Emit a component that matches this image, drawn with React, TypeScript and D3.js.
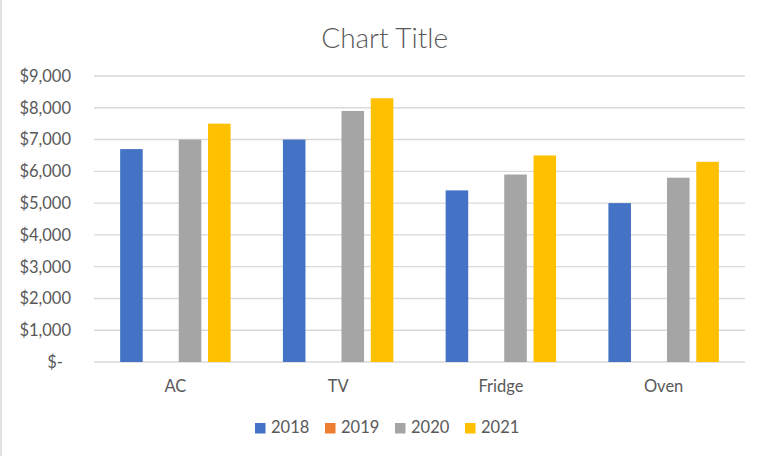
import React from "react";
import * as d3 from "d3";

const categories = ["AC", "TV", "Fridge", "Oven"];
const seriesNames = ["2018", "2019", "2020", "2021"];
const values2018 = [6700, 7000, 5400, 5000];
const values2019 = [0, 0, 0, 0];
const values2020 = [7000, 7900, 5900, 5800];
const values2021 = [7500, 8300, 6500, 6300];
const yTicks = [0, 1000, 2000, 3000, 4000, 5000, 6000, 7000, 8000, 9000];
const colors = ["#4472C4", "#ED7D31", "#A5A5A5", "#FFC000"];
const title = "Chart Title";

const W = 766;
const H = 456;
const FONT = "Lato, 'Open Sans', sans-serif";
const TEXT = "#595959";

export default function App() {
  const seriesValues = [values2018, values2019, values2020, values2021];
  const left = 94;
  const right = 745;
  const top = 76;
  const bottom = 362;

  const y = d3.scaleLinear().domain([0, 9000]).range([bottom, top]);
  const x0 = d3
    .scaleBand<string>()
    .domain(categories)
    .range([left, right])
    .paddingInner(0.28)
    .paddingOuter(0.14);
  const x1 = d3
    .scaleBand<string>()
    .domain(seriesNames)
    .range([0, x0.bandwidth()])
    .paddingInner(0.23)
    .paddingOuter(0.115);

  const fmt = d3.format("$,.0f");
  const tickLabel = (v: number) => (v === 0 ? "$-" : fmt(v));

  // legend layout
  const sq = 10.5;
  const itemW = 70;
  const legendTotal = itemW * 3 + sq + 5.5 + 37;
  const legendStart = 386.5 - legendTotal / 2;

  return (
    <svg
      width={W}
      height={H}
      style={{ position: "absolute", left: 0, top: 0, background: "#fff" }}
    >
      <rect x={0} y={0} width={W} height={H} fill="#fff" />
      <line x1={1} x2={1} y1={0} y2={H} stroke="#D9D9D9" strokeWidth={1.5} />
      <text
        x={384.7}
        y={47.5}
        textAnchor="middle"
        fontFamily={FONT}
        fontWeight={300}
        fontSize={28}
        fill={TEXT}
      >
        {title}
      </text>
      {yTicks.map((t) => (
        <g key={t}>
          <line
            x1={left}
            x2={right}
            y1={y(t)}
            y2={y(t)}
            stroke="#D9D9D9"
            strokeWidth={1.4}
          />
          <text
            x={t === 0 ? 63 : 71}
            y={y(t)}
            dy="0.36em"
            textAnchor="end"
            fontFamily={FONT}
            fontSize={16.5}
            fill={TEXT}
          >
            {tickLabel(t)}
          </text>
        </g>
      ))}
      {categories.map((c, ci) => (
        <g key={c}>
          {seriesNames.map((s, si) => {
            const v = seriesValues[si][ci];
            const bx = (x0(c) ?? 0) + (x1(s) ?? 0);
            return (
              <rect
                key={s}
                x={bx}
                y={y(v)}
                width={x1.bandwidth()}
                height={bottom - y(v)}
                fill={colors[si]}
              />
            );
          })}
          <text
            x={(x0(c) ?? 0) + x0.bandwidth() / 2}
            y={392}
            textAnchor="middle"
            fontFamily={FONT}
            fontSize={16.5}
            fill={TEXT}
          >
            {c}
          </text>
        </g>
      ))}
      {seriesNames.map((s, si) => {
        const lx = legendStart + si * itemW;
        return (
          <g key={s}>
            <rect x={lx} y={423} width={sq} height={sq} fill={colors[si]} />
            <text
              x={lx + sq + 5.5}
              y={433.3}
              fontFamily={FONT}
              fontSize={16.5}
              fill={TEXT}
            >
              {s}
            </text>
          </g>
        );
      })}
    </svg>
  );
}
